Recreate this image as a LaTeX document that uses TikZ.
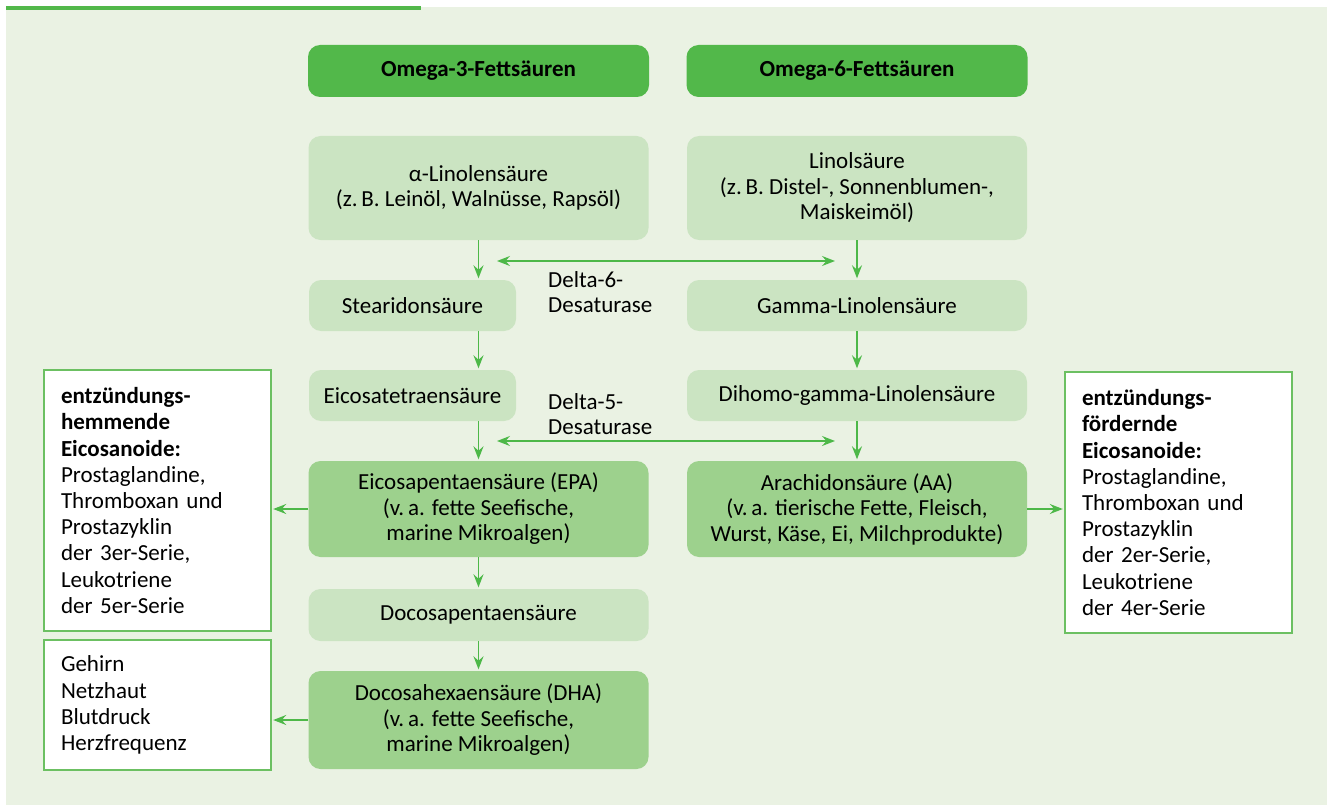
\documentclass[tikz,border=0pt]{standalone}
\usepackage{fontspec}
\setmainfont{Carlito}
\usetikzlibrary{arrows.meta}
\definecolor{bggreen}{HTML}{EAF2E3}
\definecolor{headgreen}{HTML}{52B84A}
\definecolor{lightgreen}{HTML}{CBE4C2}
\definecolor{midgreen}{HTML}{9DD18D}
\definecolor{arrowgreen}{HTML}{4DB848}
\definecolor{framegreen}{HTML}{6CC062}

\begin{document}
\begin{tikzpicture}[x=1pt,y=-1pt,>={Stealth[length=13pt,width=10pt,inset=4.5pt]}]
	\def \leftcol{478.5}
	\def \rightcol{857}
	\def \smallcol{412.5}
	\tikzstyle{head-node}=[rectangle,rounded corners=12pt,fill=headgreen,minimum width=341pt,minimum height=52pt,font=\fontsize{23}{26}\selectfont\bfseries]
	\tikzstyle{l-node}=[rectangle,rounded corners=12pt,fill=lightgreen,minimum width=340pt,align=center,font=\fontsize{23}{25.5}\selectfont]
	\tikzstyle{s-node}=[l-node,minimum width=207pt]
	\tikzstyle{d-node}=[l-node,fill=midgreen]
	\tikzstyle{w-node}=[rectangle,draw=framegreen,fill=white,line width=1.4pt,minimum width=227pt,text width=193pt,align=left,font=\fontsize{23}{26.2}\selectfont]
	\tikzstyle{enz}=[align=left,inner sep=0pt,font=\fontsize{23}{25.5}\selectfont]
	\tikzstyle{flow}=[->,draw=arrowgreen,line width=1.6pt,shorten >=1.5pt]
	\tikzstyle{both}=[<->,draw=arrowgreen,line width=1.6pt]

	% background
	\useasboundingbox (0,0) rectangle (1327,805);
	\fill[bggreen] (6,7) rectangle (1327,805);
	\fill[headgreen] (6,6.5) rectangle (421,10);

	% headers
	\node[head-node] (o3)	at (\leftcol,71)	{Omega-3-Fettsäuren};
	\node[head-node] (o6)	at (\rightcol,71)	{Omega-6-Fettsäuren};

	% omega-3 chain
	\node[l-node,minimum height=104pt] (ala)	at (\leftcol,188)	{α-Linolensäure\\(z.\,B. Leinöl, Walnüsse, Rapsöl)};
	\node[s-node,minimum height=51pt] (sda)	at (\smallcol,305.5)	{Stearidonsäure};
	\node[s-node,minimum height=51pt] (eta)	at (\smallcol,395.5)	{Eicosatetraensäure};
	\node[d-node,minimum height=96pt] (epa)	at (\leftcol,509)	{Eicosapentaensäure (EPA)\\(v.\,a. fette Seefische,\\marine Mikroalgen)};
	\node[l-node,minimum height=52pt] (dpa)	at (\leftcol,615)	{Docosapentaensäure};
	\node[d-node,minimum height=98pt] (dha)	at (\leftcol,720)	{Docosahexaensäure (DHA)\\(v.\,a. fette Seefische,\\marine Mikroalgen)};

	% omega-6 chain
	\node[l-node,minimum height=104pt] (la)	at (\rightcol,188)	{Linolsäure\\(z.\,B. Distel-, Sonnenblumen-,\\Maiskeimöl)};
	\node[l-node,minimum height=51pt] (gla)	at (\rightcol,305.5)	{Gamma-Linolensäure};
	\node[l-node,minimum height=51pt] (dgla)	at (\rightcol,395.5)	{Dihomo-gamma-Linolensäure};
	\node[d-node,minimum height=96pt] (aa)	at (\rightcol,509)	{Arachidonsäure (AA)\\(v.\,a. tierische Fette, Fleisch,\\Wurst, Käse, Ei, Milchprodukte)};

	% eicosanoids and effects
	\node[w-node,minimum height=261pt] (anti)	at (157.5,500.5)	{\textbf{entzündungs-\\hemmende\\Eicosanoide:}\\Prostaglandine,\\Thromboxan und\\Prostazyklin\\der 3er-Serie,\\Leukotriene\\der 5er-Serie};
	\node[w-node,minimum height=261pt] (pro)	at (1178.5,502.5)	{\textbf{entzündungs-\\fördernde\\Eicosanoide:}\\Prostaglandine,\\Thromboxan und\\Prostazyklin\\der 2er-Serie,\\Leukotriene\\der 4er-Serie};
	\node[w-node,minimum height=130pt] (organ)	at (157.5,705)	{Gehirn\\Netzhaut\\Blutdruck\\Herzfrequenz};

	% enzymes
	\coordinate (d6l) at (497,261);
	\coordinate (d6r) at (835,261);
	\coordinate (d5l) at (497,441);
	\coordinate (d5r) at (835,441);
	\node[enz,anchor=west] (d6) at (548,292) {Delta-6-\\Desaturase};
	\node[enz,anchor=west] (d5) at (548,414) {Delta-5-\\Desaturase};

	\path
		(ala.south)	edge[flow]	(ala.south |- sda.north)
		(ala.south |- sda.south)	edge[flow]	(ala.south |- eta.north)
		(ala.south |- eta.south)	edge[flow]	(epa.north)
		(epa.south)	edge[flow]	(dpa.north)
		(dpa.south)	edge[flow]	(dha.north)
		(la.south)	edge[flow]	(gla.north)
		(gla.south)	edge[flow]	(dgla.north)
		(dgla.south)	edge[flow]	(aa.north)
		(epa.west)	edge[flow]	(epa.west -| anti.east)
		(dha.west)	edge[flow]	(dha.west -| organ.east)
		(aa.east)	edge[flow]	(aa.east -| pro.west)
		(d6l)	edge[both]	(d6r)
		(d5l)	edge[both]	(d5r);
\end{tikzpicture}
\end{document}
